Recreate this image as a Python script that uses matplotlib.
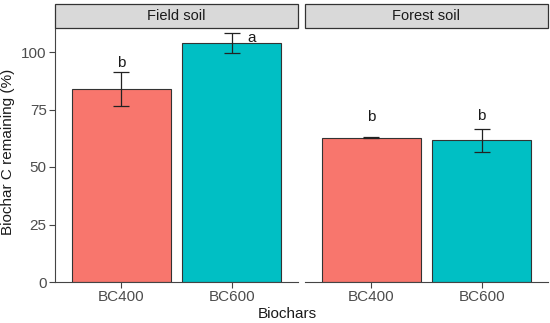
import matplotlib.pyplot as plt
from matplotlib.patches import Rectangle

plt.rcParams['font.family'] = ['Liberation Sans', 'DejaVu Sans']

# Data
soils = ['Field soil', 'Forest soil']
biochars = ['BC400', 'BC600']
field_mean = [84.0, 104.0]
field_err = [7.5, 4.3]
forest_mean = [62.7, 61.6]
forest_err = [0.2, 4.9]
field_letters = ['b', 'a']
forest_letters = ['b', 'b']
field_letter_y = [95.1, 106.0]
forest_letter_y = [71.6, 72.2]

colors = ['#F8766D', '#00BFC4']
W, H = 550, 323
fig = plt.figure(figsize=(W / 100, H / 100), dpi=100)

panel_top, panel_bot = 28, 282
strip_top = 3.5
lefts = [(55, 298), (305, 548)]
means = [field_mean, forest_mean]
errs = [field_err, forest_err]
letters = [field_letters, forest_letters]
letter_y = [field_letter_y, forest_letter_y]
ymax = (panel_bot - panel_top) / 57.5 * 25

for k, (x0, x1) in enumerate(lefts):
    ax = fig.add_axes([x0 / W, (H - panel_bot) / H, (x1 - x0) / W,
                       (panel_bot - panel_top) / H])
    xs = [1, 2]
    ax.bar(xs, means[k], width=0.9, color=colors, edgecolor='#333333',
           linewidth=0.8, zorder=2)
    ax.errorbar(xs, means[k], yerr=errs[k], fmt='none', ecolor='#222222',
                elinewidth=0.9, capsize=6, capthick=0.9, zorder=3)
    for i, (lab, ly) in enumerate(zip(letters[k], letter_y[k])):
        dx = 0.18 if lab == 'a' else 0
        ax.text(xs[i] + dx, ly, lab, ha='center', va='center',
                fontsize=11, color='#1a1a1a')
    ax.set_xlim(0.4, 2.6)
    ax.set_ylim(0, ymax)
    ax.set_xticks(xs)
    ax.set_xticklabels(biochars)
    for s in ['top', 'right']:
        ax.spines[s].set_visible(False)
    ax.spines['bottom'].set_color('#444444')
    ax.spines['left'].set_color('#444444')
    ax.tick_params(colors='#444444', labelcolor='#4D4D4D', labelsize=11,
                   length=4, width=0.8, pad=2)
    if k == 0:
        ax.set_yticks([0, 25, 50, 75, 100])
    else:
        ax.spines['left'].set_visible(False)
        ax.set_yticks([])

    # facet strip
    sax = fig.add_axes([x0 / W, (H - panel_top) / H, (x1 - x0) / W,
                        (panel_top - strip_top) / H])
    sax.set_axis_off()
    sax.add_patch(Rectangle((0, 0), 1, 1, transform=sax.transAxes,
                            facecolor='#D9D9D9', edgecolor='#333333',
                            linewidth=0.9, clip_on=False))
    sax.text(0.5, 0.5, soils[k], ha='center', va='center', fontsize=10.5,
             color='#1a1a1a', transform=sax.transAxes)

fig.text(287 / W, 1 - 314 / H, 'Biochars', ha='center', va='center',
         fontsize=11, color='#1a1a1a')
fig.text(8 / W, 1 - 152 / H, 'Biochar C remaining (%)', ha='center',
         va='center', rotation=90, fontsize=11, color='#1a1a1a')

fig.savefig('out.png', dpi=100)
